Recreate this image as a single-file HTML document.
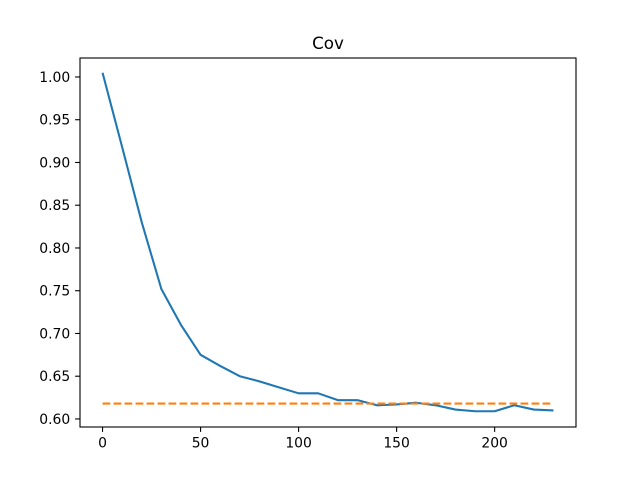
<!DOCTYPE html>
<html><head><meta charset="utf-8"><style>
body{margin:0;background:#fff}
svg{display:block;font-family:"DejaVu Sans","Liberation Sans",sans-serif}
</style></head><body>
<svg id="chart" width="640" height="480" viewBox="0 0 640 480">
<rect x="0" y="0" width="640" height="480" fill="#fff"/>
<text x="328" y="49" text-anchor="middle" font-size="16.7">Cov</text>
<g id="grid"></g>
<g id="series"></g>
<rect x="80" y="58" width="496" height="369" fill="none" stroke="#000" stroke-width="1.1"/>
</svg>
<script>
const xValues=[0,10,20,30,40,50,60,70,80,90,100,110,120,130,140,150,160,170,180,190,200,210,220,230];
const covValues=[1.005,0.918,0.83,0.752,0.71,0.675,0.662,0.650,0.644,0.637,0.630,0.630,0.622,0.622,0.616,0.617,0.619,0.616,0.611,0.609,0.609,0.616,0.611,0.610];
const refValue=[0.618];
const xTicks=[0,50,100,150,200];
const yTicks=[0.60,0.65,0.70,0.75,0.80,0.85,0.90,0.95,1.00];

const L=80,R=576,T=58,B=427;
const xmin=-11.5,xmax=241.5,ymin=0.5906,ymax=1.0222;
const sx=v=>L+(v-xmin)/(xmax-xmin)*(R-L);
const sy=v=>B-(v-ymin)/(ymax-ymin)*(B-T);
const NS="http://www.w3.org/2000/svg";
const g=document.getElementById('grid'),s=document.getElementById('series');
function mk(tag,attrs,parent){const e=document.createElementNS(NS,tag);for(const k in attrs)e.setAttribute(k,attrs[k]);parent.appendChild(e);return e;}
xTicks.forEach(t=>{
  const x=sx(t);
  const ln=mk('line',{x1:x,x2:x,y1:B,y2:B+4.9,stroke:'#000','stroke-width':1.1},g);
  
  
  const tx=mk('text',{x:x,y:B+20.5,'text-anchor':'middle','font-size':13.9},g);
  tx.textContent=String(t);
  
  
});
yTicks.forEach(t=>{
  const y=sy(t);
  const ln=mk('line',{x1:L-4.9,x2:L,y1:y,y2:y,stroke:'#000','stroke-width':1.1},g);
  
  
  const tx=mk('text',{x:L-9.8,y:y+5,'text-anchor':'end','font-size':13.9},g);
  tx.textContent=t.toFixed(2);
  
  
});
const pts=xValues.map((x,i)=>sx(x)+','+sy(covValues[i])).join(' ');
const pl=mk('polyline',{points:pts,fill:'none',stroke:'#1f77b4','stroke-width':2.08,'stroke-linejoin':'round'},s);


const rl=mk('line',{x1:sx(xValues[0]),x2:sx(xValues[xValues.length-1]),y1:sy(refValue[0]),y2:sy(refValue[0]),stroke:'#ff7f0e','stroke-width':2.08,'stroke-dasharray':'7.7,3.3'},s);


</script>
</body></html>
